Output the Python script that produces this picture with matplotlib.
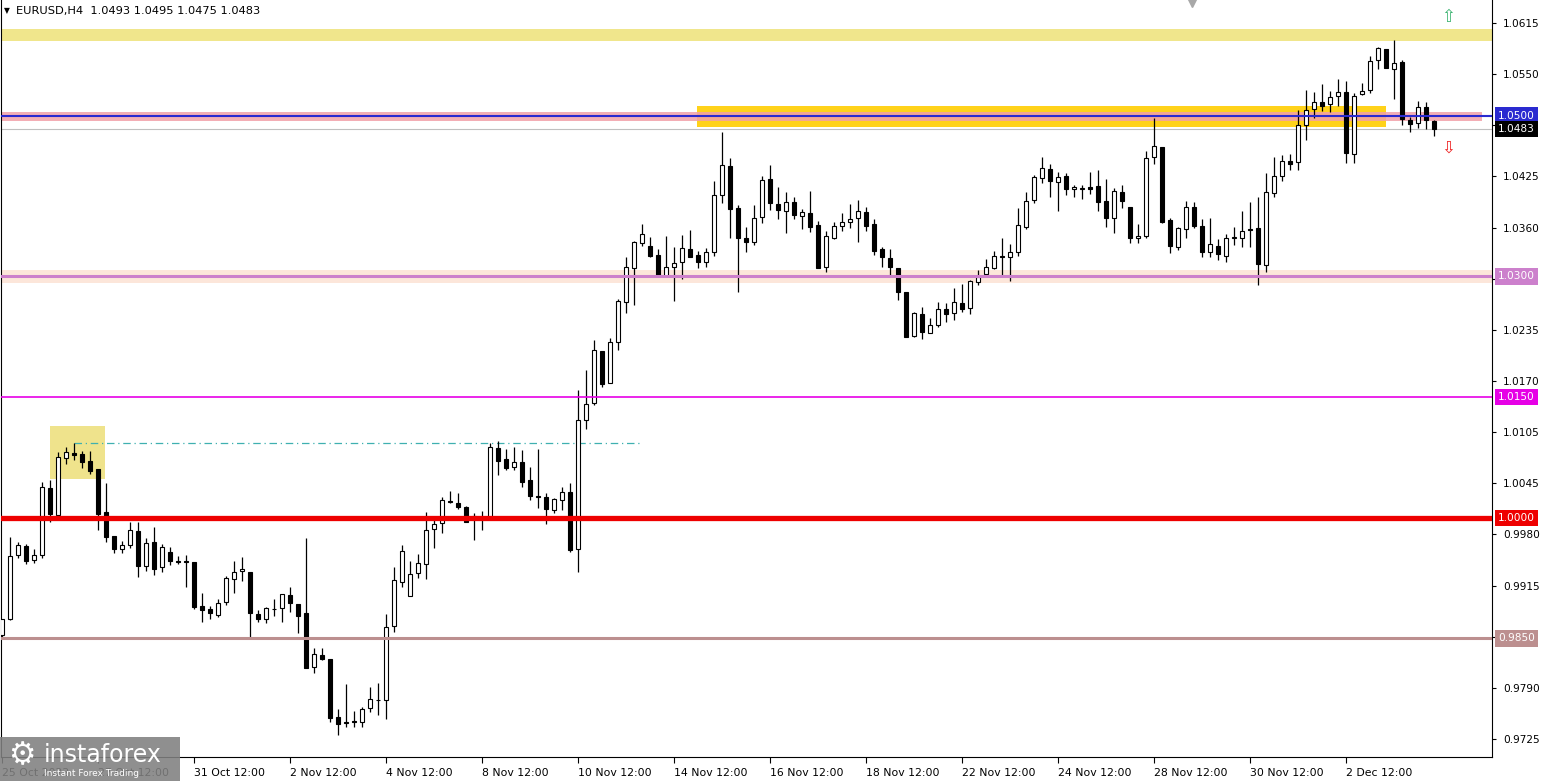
# importing the Libraries
import numpy as np
import matplotlib.pyplot as plt
from matplotlib.patches import Rectangle
from matplotlib.transforms import blended_transform_factory

# EURUSD H4 candles (25 Oct 12:00 -> 5 Dec)
opens = [0.9854, 0.9874, 0.9954, 0.9965, 0.9947, 0.9954, 1.0037, 1.0003, 1.0074, 1.0081,
         1.0079, 1.0071, 1.0061, 1.0007, 0.9977, 0.9961, 0.9966, 0.9984, 0.9940, 0.9970,
         0.9939, 0.9957, 0.9946, 0.9946, 0.9945, 0.9890, 0.9887, 0.9879, 0.9895, 0.9924,
         0.9934, 0.9933, 0.9880, 0.9874, 0.9887, 0.9888, 0.9904, 0.9893, 0.9882, 0.9815,
         0.9829, 0.9824, 0.9752, 0.9746, 0.9747, 0.9746, 0.9764, 0.9773, 0.9773, 0.9866,
         0.9920, 0.9903, 0.9931, 0.9942, 0.9986, 0.9994, 1.0021, 1.0018, 1.0013, 1.0002,
         1.0000, 1.0001, 1.0087, 1.0073, 1.0063, 1.0069, 1.0047, 1.0027, 1.0026, 1.0010,
         1.0022, 1.0032, 0.9961, 1.0122, 1.0143, 1.0207, 1.0168, 1.0219, 1.0268, 1.0310,
         1.0342, 1.0338, 1.0327, 1.0301, 1.0312, 1.0318, 1.0334, 1.0327, 1.0318, 1.0330,
         1.0401, 1.0437, 1.0385, 1.0348, 1.0343, 1.0374, 1.0421, 1.0390, 1.0381, 1.0393,
         1.0375, 1.0379, 1.0364, 1.0312, 1.0348, 1.0363, 1.0368, 1.0373, 1.0380, 1.0365,
         1.0334, 1.0323, 1.0310, 1.0281, 1.0226, 1.0253, 1.0230, 1.0240, 1.0260, 1.0254,
         1.0267, 1.0261, 1.0293, 1.0303, 1.0310, 1.0325, 1.0324, 1.0330, 1.0361, 1.0395,
         1.0422, 1.0434, 1.0417, 1.0425, 1.0409, 1.0409, 1.0411, 1.0412, 1.0394, 1.0373,
         1.0405, 1.0386, 1.0348, 1.0350, 1.0448, 1.0461, 1.0370, 1.0337, 1.0359, 1.0386,
         1.0363, 1.0330, 1.0338, 1.0325, 1.0348, 1.0348, 1.0359, 1.0360, 1.0314, 1.0404,
         1.0425, 1.0443, 1.0442, 1.0488, 1.0508, 1.0517, 1.0514, 1.0524, 1.0529, 1.0452,
         1.0527, 1.0532, 1.0569, 1.0583, 1.0558, 1.0567, 1.0494, 1.0491, 1.0511, 1.0493]

highs = [0.9874, 0.9976, 0.9970, 0.9967, 0.9961, 1.0045, 1.0047, 1.0082, 1.0088, 1.0093,
         1.0083, 1.0083, 1.0061, 1.0043, 0.9977, 0.9971, 0.9995, 0.9995, 0.9975, 0.9989,
         0.9967, 0.9964, 0.9952, 0.9954, 0.9945, 0.9907, 0.9890, 0.9899, 0.9928, 0.9946,
         0.9951, 0.9933, 0.9885, 0.9889, 0.9899, 0.9905, 0.9914, 0.9893, 0.9975, 0.9838,
         0.9838, 0.9824, 0.9762, 0.9793, 0.9760, 0.9765, 0.9790, 0.9795, 0.9880, 0.9939,
         0.9966, 0.9946, 0.9955, 1.0007, 0.9997, 1.0026, 1.0033, 1.0031, 1.0015, 1.0006,
         1.0008, 1.0093, 1.0095, 1.0086, 1.0088, 1.0084, 1.0063, 1.0086, 1.0031, 1.0025,
         1.0038, 1.0043, 1.0159, 1.0184, 1.0221, 1.0207, 1.0223, 1.0272, 1.0324, 1.0344,
         1.0365, 1.0349, 1.0334, 1.0350, 1.0337, 1.0352, 1.0358, 1.0332, 1.0335, 1.0419,
         1.0480, 1.0447, 1.0389, 1.0361, 1.0389, 1.0425, 1.0438, 1.0411, 1.0405, 1.0399,
         1.0384, 1.0406, 1.0369, 1.0356, 1.0368, 1.0379, 1.0390, 1.0395, 1.0386, 1.0371,
         1.0337, 1.0334, 1.0310, 1.0281, 1.0256, 1.0262, 1.0248, 1.0268, 1.0267, 1.0286,
         1.0291, 1.0296, 1.0308, 1.0322, 1.0332, 1.0348, 1.0340, 1.0385, 1.0405, 1.0426,
         1.0448, 1.0440, 1.0430, 1.0429, 1.0414, 1.0414, 1.0430, 1.0432, 1.0421, 1.0410,
         1.0414, 1.0386, 1.0365, 1.0456, 1.0497, 1.0461, 1.0373, 1.0361, 1.0394, 1.0393,
         1.0371, 1.0373, 1.0347, 1.0353, 1.0361, 1.0381, 1.0393, 1.0399, 1.0429, 1.0448,
         1.0451, 1.0452, 1.0507, 1.0532, 1.0529, 1.0539, 1.0530, 1.0545, 1.0543, 1.0528,
         1.0540, 1.0574, 1.0585, 1.0583, 1.0594, 1.0569, 1.0498, 1.0518, 1.0517, 1.0495]

lows = [0.9852, 0.9873, 0.9950, 0.9942, 0.9944, 0.9950, 0.9995, 1.0001, 1.0067, 1.0072,
        1.0062, 1.0054, 0.9985, 0.9970, 0.9956, 0.9956, 0.9962, 0.9926, 0.9934, 0.9929,
        0.9933, 0.9941, 0.9942, 0.9914, 0.9887, 0.9870, 0.9874, 0.9877, 0.9892, 0.9907,
        0.9921, 0.9852, 0.9870, 0.9869, 0.9878, 0.9870, 0.9883, 0.9857, 0.9813, 0.9807,
        0.9823, 0.9746, 0.9730, 0.9740, 0.9740, 0.9740, 0.9759, 0.9755, 0.9750, 0.9858,
        0.9914, 0.9903, 0.9925, 0.9924, 0.9962, 0.9981, 1.0018, 1.0011, 0.9995, 0.9972,
        0.9985, 1.0000, 1.0053, 1.0059, 1.0059, 1.0038, 1.0022, 1.0012, 0.9992, 1.0006,
        1.0010, 0.9957, 0.9933, 1.0110, 1.0140, 1.0163, 1.0168, 1.0209, 1.0254, 1.0264,
        1.0338, 1.0324, 1.0299, 1.0299, 1.0269, 1.0297, 1.0324, 1.0310, 1.0312, 1.0325,
        1.0391, 1.0348, 1.0281, 1.0330, 1.0339, 1.0366, 1.0383, 1.0371, 1.0354, 1.0371,
        1.0359, 1.0355, 1.0310, 1.0305, 1.0347, 1.0356, 1.0360, 1.0343, 1.0356, 1.0327,
        1.0312, 1.0302, 1.0271, 1.0225, 1.0225, 1.0222, 1.0230, 1.0237, 1.0243, 1.0246,
        1.0256, 1.0253, 1.0289, 1.0302, 1.0309, 1.0302, 1.0294, 1.0325, 1.0359, 1.0391,
        1.0416, 1.0399, 1.0381, 1.0401, 1.0399, 1.0396, 1.0402, 1.0381, 1.0361, 1.0354,
        1.0385, 1.0342, 1.0342, 1.0348, 1.0440, 1.0366, 1.0329, 1.0333, 1.0348, 1.0360,
        1.0324, 1.0324, 1.0320, 1.0318, 1.0339, 1.0337, 1.0337, 1.0289, 1.0305, 1.0399,
        1.0419, 1.0432, 1.0432, 1.0470, 1.0497, 1.0506, 1.0504, 1.0512, 1.0441, 1.0441,
        1.0526, 1.0528, 1.0558, 1.0559, 1.0521, 1.0488, 1.0480, 1.0485, 1.0483, 1.0475]

closes = [0.9874, 0.9952, 0.9966, 0.9946, 0.9954, 1.0038, 1.0005, 1.0076, 1.0082, 1.0078,
          1.0069, 1.0058, 1.0005, 0.9976, 0.9961, 0.9966, 0.9985, 0.9940, 0.9969, 0.9936,
          0.9964, 0.9946, 0.9945, 0.9945, 0.9889, 0.9885, 0.9882, 0.9894, 0.9925, 0.9933,
          0.9936, 0.9882, 0.9874, 0.9888, 0.9886, 0.9905, 0.9894, 0.9878, 0.9813, 0.9831,
          0.9824, 0.9751, 0.9744, 0.9745, 0.9746, 0.9762, 0.9775, 0.9774, 0.9864, 0.9923,
          0.9959, 0.9930, 0.9944, 0.9985, 0.9992, 1.0022, 1.0020, 1.0013, 0.9995, 1.0001,
          1.0000, 1.0088, 1.0071, 1.0062, 1.0069, 1.0045, 1.0027, 1.0026, 1.0011, 1.0023,
          1.0032, 0.9960, 1.0122, 1.0141, 1.0209, 1.0166, 1.0219, 1.0269, 1.0312, 1.0343,
          1.0353, 1.0325, 1.0302, 1.0312, 1.0317, 1.0335, 1.0324, 1.0318, 1.0330, 1.0401,
          1.0438, 1.0384, 1.0348, 1.0343, 1.0373, 1.0420, 1.0391, 1.0383, 1.0393, 1.0376,
          1.0380, 1.0361, 1.0310, 1.0350, 1.0363, 1.0368, 1.0371, 1.0381, 1.0363, 1.0332,
          1.0324, 1.0312, 1.0281, 1.0225, 1.0254, 1.0231, 1.0240, 1.0260, 1.0253, 1.0268,
          1.0260, 1.0294, 1.0299, 1.0312, 1.0325, 1.0324, 1.0330, 1.0364, 1.0394, 1.0424,
          1.0435, 1.0419, 1.0424, 1.0409, 1.0411, 1.0410, 1.0409, 1.0393, 1.0373, 1.0406,
          1.0394, 1.0348, 1.0350, 1.0447, 1.0462, 1.0368, 1.0338, 1.0360, 1.0386, 1.0363,
          1.0330, 1.0340, 1.0328, 1.0348, 1.0349, 1.0356, 1.0358, 1.0315, 1.0405, 1.0425,
          1.0443, 1.0440, 1.0488, 1.0507, 1.0517, 1.0512, 1.0523, 1.0529, 1.0453, 1.0524,
          1.0530, 1.0568, 1.0584, 1.0559, 1.0565, 1.0496, 1.0489, 1.0511, 1.0494, 1.0483]

# time labels, one every 12 bars (2 trading days)
time_labels = ['25 Oct 2022', '27 Oct 12:00', '31 Oct 12:00', '2 Nov 12:00', '4 Nov 12:00',
               '8 Nov 12:00', '10 Nov 12:00', '14 Nov 12:00', '16 Nov 12:00', '18 Nov 12:00',
               '22 Nov 12:00', '24 Nov 12:00', '28 Nov 12:00', '30 Nov 12:00', '2 Dec 12:00']

# price scale labels (top to bottom), '' where a level box sits on top
price_labels = ['1.0615', '1.0550', '', '1.0425', '1.0360', '', '1.0235', '1.0170',
                '1.0105', '1.0045', '0.9980', '0.9915', '', '0.9790', '0.9725']

# horizontal levels drawn on the chart
level_prices = [1.0500, 1.0300, 1.0150, 1.0000, 0.9850]
level_colors = ['#2a2ad0', '#cc80cc', '#e600e6', '#ee0000', '#bc8f8f']
level_widths = [1.5, 2.2, 1.2, 3.8, 2.2]

bid = 1.0483

# figure in pixels
W, H = 1544, 781
fig = plt.figure(figsize=(W / 100, H / 100), dpi=100)
ax = fig.add_axes([1 / W, 24 / H, 1491 / W, 757 / H])
ax.set_xlim(-0.125, 186.25)
ax.set_ylim(0.97026, 1.06436)

x = np.arange(len(opens))
o = np.array(opens)
c = np.array(closes)
hi = np.array(highs)
lo = np.array(lows)

# background zones (rectangle objects)
ax.axhspan(1.0593, 1.0608, color='#f0e68c', zorder=0, lw=0)
ax.add_patch(Rectangle((86.9, 1.0486), 173 - 86.9, 1.0512 - 1.0486,
                       facecolor='#ffd21a', edgecolor='none', zorder=0.5))
ax.add_patch(Rectangle((-1, 1.0493), 186, 1.0504 - 1.0493,
                       facecolor='#f2a0a8', edgecolor='none', alpha=0.85, zorder=0.6))
ax.axhspan(1.0292, 1.0308, color='#fce6da', zorder=0, lw=0)
ax.add_patch(Rectangle((6.0, 1.0048), 12.9 - 6.0, 1.0114 - 1.0048,
                       facecolor='#efe38c', edgecolor='none', zorder=0.5))

# dash-dot line from the swing high
ax.plot([9, 79.75], [1.0093, 1.0093], color='#3fb0b0', lw=0.9,
        dashes=[6, 3, 1, 3], zorder=1)

# bid line
ax.axhline(bid, color='#c0c0c0', lw=0.8, zorder=1)

# candles: wicks first, then bodies
ax.vlines(x, lo, hi, color='black', lw=0.9, zorder=3)
up = c >= o
ax.bar(x, np.abs(c - o), bottom=np.minimum(o, c), width=0.5,
       color=np.where(up, 'white', 'black'), edgecolor='black', linewidth=0.8, zorder=4)

# horizontal levels on top of the candles
for p, col, lw in zip(level_prices, level_colors, level_widths):
    ax.axhline(p, color=col, lw=lw, zorder=5)

# arrows (up / down signals)
ax.text(180.75, 1.0622, '\u21e7', color='#3cb371', fontsize=12, ha='center', va='center', zorder=6)
ax.text(180.75, 1.0460, '\u21e9', color='#ee2222', fontsize=12, ha='center', va='center', zorder=6)

# chart shift marker
ax.plot([148.75], [1.0641], marker='v', color='#a8a8a8', ms=7, clip_on=False, zorder=6)

# axes look (MT4 style)
ax.spines['top'].set_visible(False)
for side in ['left', 'right', 'bottom']:
    ax.spines[side].set_linewidth(0.8)

ax.yaxis.tick_right()
ticks = np.linspace(1.0615, 0.9725, len(price_labels))
ax.set_yticks(ticks)
ax.set_yticklabels(price_labels)
ax.tick_params(axis='y', direction='out', length=3, width=0.8, labelsize=7.6, pad=5)

ax.set_xticks(x[::12][:len(time_labels)])
ax.set_xticklabels(time_labels)
ax.tick_params(axis='x', direction='out', length=4, width=0.8, labelsize=7.8, pad=4)
for lbl in ax.get_xticklabels():
    lbl.set_horizontalalignment('left')

# price boxes on the right scale
tr = blended_transform_factory(ax.transAxes, ax.transData)
box_prices = level_prices + [bid]
box_colors = level_colors + ['black']
for p, col in zip(box_prices, box_colors):
    ax.text(1.0 + 6 / 1491, p, f'{p:.4f}', transform=tr, fontsize=7.6, color='white',
            va='center', ha='left', clip_on=False, zorder=7,
            bbox=dict(boxstyle='square,pad=0.3', facecolor=col, edgecolor='none'))

# header
fig.text(4 / W, 1 - 11 / H, '\u25bc', fontsize=5.5, va='center', ha='left')
fig.text(16 / W, 1 - 11 / H, 'EURUSD,H4  1.0493 1.0495 1.0475 1.0483',
         fontsize=8.2, va='center', ha='left')

# instaforex logo, bottom left (covers the first time labels, as in MT4 screenshots)
fig.patches.append(Rectangle((0, 0), 180 / W, 44 / H, transform=fig.transFigure,
                             facecolor='#808080', edgecolor='none', alpha=0.88, zorder=10))
fig.text(22 / W, 25 / H, '\u2699', fontsize=22, color='white', ha='center', va='center', zorder=11)
fig.text(44 / W, 26 / H, 'instaforex', fontsize=17, color='white', ha='left', va='center', zorder=11)
fig.text(44 / W, 8 / H, 'Instant Forex Trading', fontsize=6.5, color='white', ha='left',
         va='center', zorder=11)

plt.savefig('out.png', dpi=100)
